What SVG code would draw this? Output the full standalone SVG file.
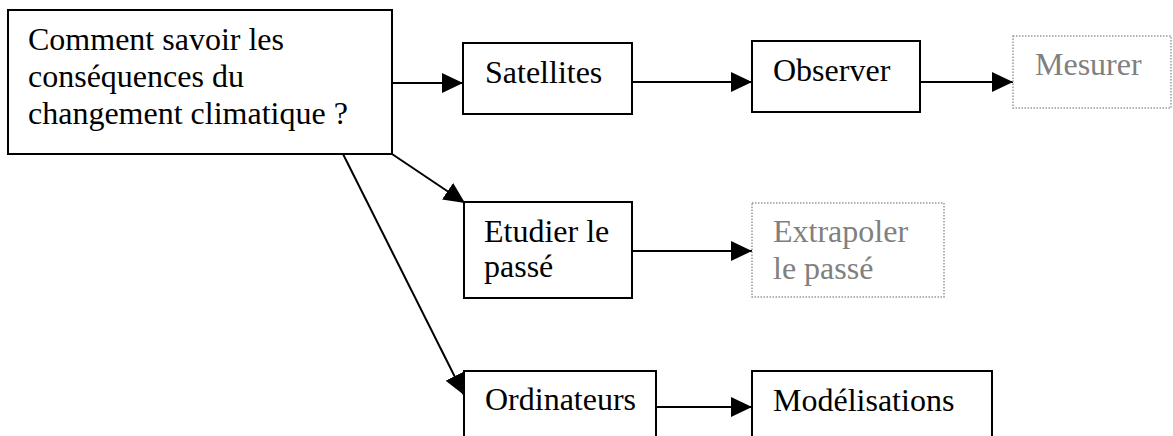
<svg xmlns="http://www.w3.org/2000/svg" width="1173" height="436" viewBox="0 0 1173 436">
<defs>
<marker id="arr" markerUnits="userSpaceOnUse" markerWidth="21" markerHeight="20" refX="21" refY="10" orient="auto">
<path d="M0,0 L21,10 L0,20 z" fill="#000"/>
</marker>
<style>
.box{fill:#fff;stroke:#000;stroke-width:2}
.dot{fill:#fff;stroke:#999;stroke-width:1.5;stroke-dasharray:1.5 1.5}
.t{font-family:'Liberation Serif','Times New Roman',Times,serif;font-size:32px;fill:#000}
.g{fill:#808080}
.c{stroke:#000;stroke-width:2;fill:none;marker-end:url(#arr)}
</style>
</defs>
<rect width="1173" height="436" fill="#fff"/>
<g id="connectors">
<line class="c" x1="392" y1="83" x2="463" y2="83"/>
<line class="c" x1="632" y1="82" x2="752" y2="82"/>
<line class="c" x1="920" y1="82" x2="1013" y2="82"/>
<line class="c" x1="392" y1="154" x2="465" y2="203"/>
<line class="c" x1="343" y1="154" x2="464" y2="395"/>
<line class="c" x1="632" y1="251" x2="752" y2="251"/>
<line class="c" x1="656" y1="407" x2="752" y2="407"/>
</g>
<g id="main">
<rect class="box" x="8" y="10" width="384" height="144"/>
<text class="t" x="28" y="50">Comment savoir les</text>
<text class="t" x="28" y="87">conséquences du</text>
<text class="t" x="28" y="124">changement climatique ?</text>
</g>
<g id="satellites">
<rect class="box" x="463" y="43" width="169" height="71"/>
<text class="t" x="485" y="83">Satellites</text>
</g>
<g id="observer">
<rect class="box" x="752" y="41" width="168" height="71"/>
<text class="t" x="773" y="81">Observer</text>
</g>
<g id="mesurer">
<rect class="dot" x="1013" y="36" width="158" height="72"/>
<text class="t g" x="1035" y="75">Mesurer</text>
</g>
<g id="etudier">
<rect class="box" x="464" y="202" width="168" height="96"/>
<text class="t" x="484" y="242">Etudier le</text>
<text class="t" x="484" y="277">passé</text>
</g>
<g id="extrapoler">
<rect class="dot" x="752" y="203" width="192" height="94"/>
<text class="t g" x="773" y="242">Extrapoler</text>
<text class="t g" x="773" y="279">le passé</text>
</g>
<g id="ordinateurs">
<rect class="box" x="464" y="371" width="192" height="80"/>
<text class="t" x="485" y="410">Ordinateurs</text>
</g>
<g id="modelisations">
<rect class="box" x="752" y="371" width="240" height="80"/>
<text class="t" x="773" y="411">Modélisations</text>
</g>
</svg>
